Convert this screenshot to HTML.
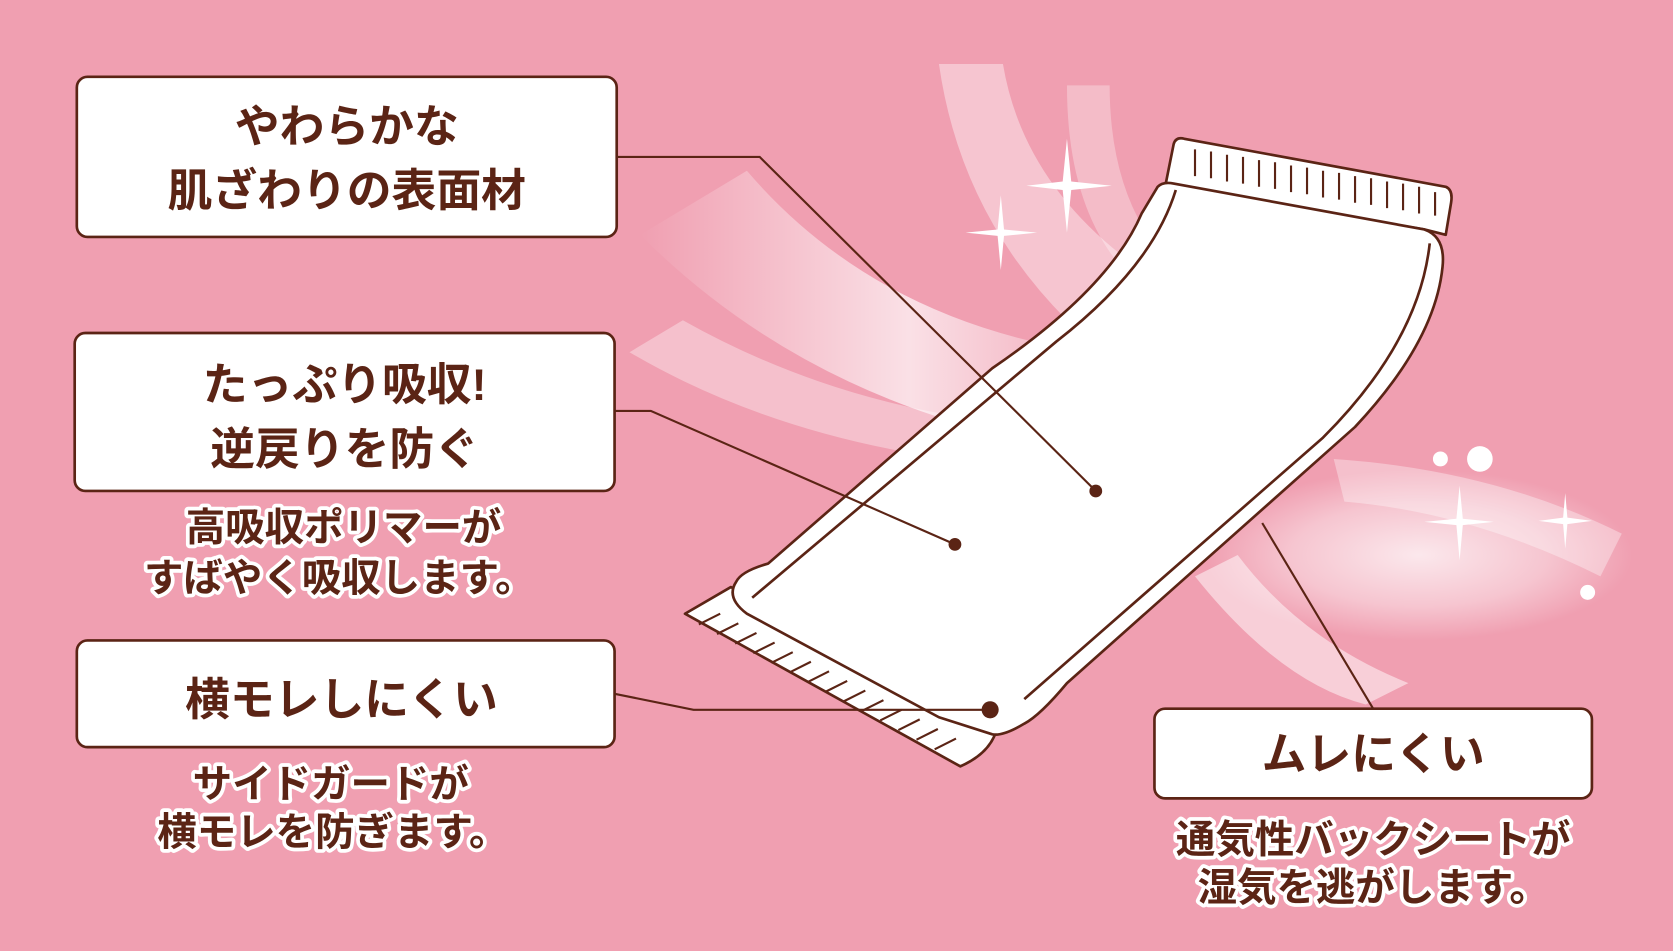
<!DOCTYPE html>
<html><head><meta charset="utf-8"><style>
html,body{margin:0;padding:0;background:#f09fb1;}
svg{display:block}
text{font-family:"Liberation Sans","Noto Sans CJK JP",sans-serif;font-weight:bold;fill:#5b2415;paint-order:stroke;stroke:#fff;stroke-width:7px;stroke-linejoin:round;text-anchor:middle}
.b text{stroke:none}
</style></head><body>
<svg width="1673" height="951" viewBox="0 0 1568 891" preserveAspectRatio="none">
<defs>
<radialGradient id="g1" cx="0.5" cy="0.5" r="0.5"><stop offset="0" stop-color="#fff" stop-opacity="0.95"/><stop offset="0.6" stop-color="#fff" stop-opacity="0.5"/><stop offset="1" stop-color="#fff" stop-opacity="0"/></radialGradient>
<linearGradient id="lg" x1="0" y1="0" x2="1" y2="0"><stop offset="0" stop-color="#fff" stop-opacity="0"/><stop offset="0.6" stop-color="#fff" stop-opacity="0.85"/><stop offset="1" stop-color="#fff" stop-opacity="0.2"/></linearGradient>
</defs>
<rect width="1568" height="891" fill="#f09fb1"/>
<path d="M600,220 Q760,380 1000,420 L1020,330 Q820,300 700,160 Z" fill="url(#lg)" opacity="0.8"/>
<path d="M590,330 Q760,430 1000,440 L990,400 Q800,390 640,300 Z" fill="#fff" opacity="0.35"/>
<path d="M880,60 Q900,200 1000,300 L1080,260 Q960,180 940,60 Z" fill="#fff" opacity="0.4"/>
<path d="M1000,80 Q1000,200 1060,260 L1090,240 Q1040,180 1040,80 Z" fill="#fff" opacity="0.3"/>
<ellipse cx="1330" cy="520" rx="200" ry="80" fill="url(#g1)" opacity="0.8"/>
<path d="M1120,540 Q1200,640 1280,660 L1320,640 Q1220,600 1160,520 Z" fill="#fff" opacity="0.5"/>
<path d="M1250,430 Q1400,440 1520,500 L1500,540 Q1380,480 1260,470 Z" fill="#fff" opacity="0.35"/>
<g fill="#fff">
<path d="M1000,130 L1004,170 L1042,174 L1004,178 L1000,218 L996,178 L962,174 L996,170 Z"/>
<path d="M938,183 L941,215 L972,218 L941,221 L938,253 L935,221 L905,218 L935,215 Z"/>
<path d="M1368,455 L1371,486 L1400,489 L1371,492 L1368,525 L1365,492 L1335,489 L1365,486 Z"/>
<path d="M1467,462 L1469,485 L1492,488 L1469,491 L1467,514 L1465,491 L1442,488 L1465,485 Z"/>
<circle cx="1387" cy="430" r="12"/><circle cx="1350" cy="430" r="7"/><circle cx="1488" cy="555" r="7"/>
</g>
<!-- pad -->
<g stroke="#5b2415" stroke-width="2.5" fill="#fff" stroke-linejoin="round">
<path d="M1100,135 Q1102,128 1110,130 L1355,175 Q1362,178 1360,190 L1355,220 L1335,215 L1092,175 Z"/>
<path d="M642,575 L685,550 L935,680 Q930,705 900,718 Z"/>
<path d="M1085,175 Q1090,170 1100,172 L1335,215 Q1355,222 1352,250 Q1345,320 1270,400 L1000,640 Q975,670 960,678 Q940,690 930,688 L880,672 L700,575 Q680,560 690,545 Q695,535 720,528 L930,345 Q1040,270 1070,200 Z"/>
<path d="M1102,178 Q1080,250 990,320 L705,560" fill="none"/>
<path d="M1340,228 Q1330,320 1240,410 L960,655" fill="none"/>
</g>
<g stroke="#5b2415" stroke-width="2" fill="none">
<path d="M1120,140 v25 M1135,142 v25 M1150,145 v25 M1165,147 v25 M1180,150 v25 M1195,152 v25 M1210,155 v25 M1225,157 v25 M1240,160 v25 M1255,162 v25 M1270,165 v25 M1285,167 v25 M1300,170 v25 M1315,172 v25 M1330,175 v25 M1345,180 v22"/>
<path d="M655,585 l20,-10 M672,594 l20,-10 M689,603 l20,-10 M706,612 l20,-10 M723,621 l20,-10 M740,630 l20,-10 M757,639 l20,-10 M774,648 l20,-10 M791,657 l20,-10 M808,666 l20,-10 M825,675 l20,-10 M842,684 l20,-10 M859,693 l20,-10 M876,702 l20,-10"/>
</g>
<!-- connector lines -->
<g stroke="#5b2415" stroke-width="2" fill="none">
<polyline points="578,147 712,147 1027,460"/>
<polyline points="576,385 610,385 895,510"/>
<polyline points="576,650 650,665 928,665"/>
<line x1="1287" y1="664" x2="1183" y2="490"/>
</g>
<g fill="#5b2415"><circle cx="1027" cy="460" r="6"/><circle cx="895" cy="510" r="6"/><circle cx="928" cy="665" r="8"/></g>
<g class="b" stroke="#5b2415" stroke-width="2.5" fill="#fff">
<rect x="72" y="72" width="506" height="150" rx="10"/>
<rect x="70" y="312" width="506" height="148" rx="10"/>
<rect x="72" y="600" width="504" height="100" rx="10"/>
<rect x="1082" y="664" width="410" height="84" rx="10"/>
</g>
<g class="b" font-size="42">
<text x="325" y="133">やわらかな</text>
<text x="325" y="193">肌ざわりの表面材</text>
<text x="323" y="375">たっぷり吸収!</text>
<text x="323" y="435">逆戻りを防ぐ</text>
<text x="320" y="670">横モレしにくい</text>
<text x="1287" y="721">ムレにくい</text>
</g>
<g font-size="37">
<text x="322" y="507">高吸収ポリマーが</text>
<text x="318" y="554">すばやく吸収します。</text>
<text x="310" y="747">サイドガードが</text>
<text x="312" y="792">横モレを防ぎます。</text>
<text x="1287" y="799">通気性バックシートが</text>
<text x="1287" y="844">湿気を逃がします。</text>
</g>
</svg>
</body></html>
